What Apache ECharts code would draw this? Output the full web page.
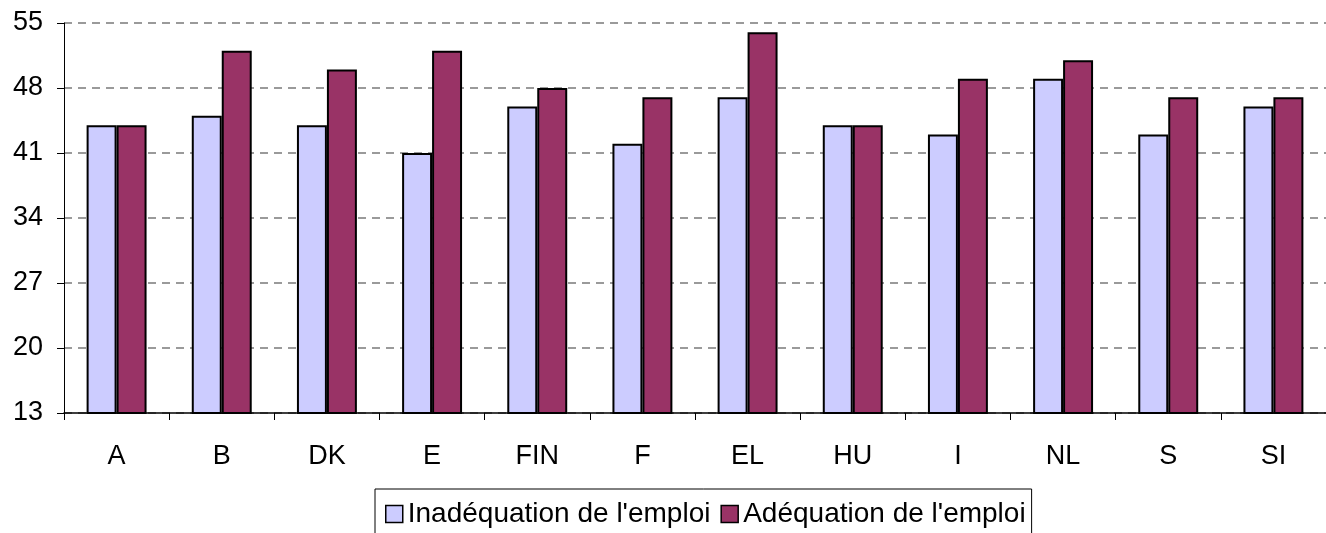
<!DOCTYPE html>
<html>
<head>
<meta charset="utf-8">
<script src="https://cdn.jsdelivr.net/npm/echarts@6/dist/echarts.min.js"></script>
<style>
  html, body { margin: 0; padding: 0; background: #fff; }
  #chart { width: 1326px; height: 533px; }
</style>
</head>
<body>
<div id="chart"></div>
<script>
const categories = ['A', 'B', 'DK', 'E', 'FIN', 'F', 'EL', 'HU', 'I', 'NL', 'S', 'SI']
const inadequation = [44, 45, 44, 41, 46, 42, 47, 44, 43, 49, 43, 46]
const adequation = [44, 52, 50, 52, 48, 47, 54, 44, 49, 51, 47, 47]

const chart = echarts.init(document.getElementById('chart'))

const font = "'Liberation Sans', Arial, sans-serif"

const option = {
  backgroundColor: '#fff',
  animation: false,
  grid: {
    left: 64,
    right: 0,
    top: 23,
    bottom: 120
  },
  legend: {
    data: ["Inadéquation de l'emploi", "Adéquation de l'emploi"],
    left: 375,
    top: 489,
    icon: 'rect',
    itemWidth: 17,
    itemHeight: 17,
    itemGap: 10,
    padding: [11, 6, 12, 10],
    borderColor: '#000',
    borderWidth: 1,
    itemStyle: { borderColor: '#000', borderWidth: 1.5 },
    textStyle: {
      fontFamily: font,
      fontSize: 28,
      color: '#000'
    }
  },
  xAxis: {
    type: 'category',
    data: categories,
    axisLine: { onZero: false, lineStyle: { color: '#000', width: 1.5 } },
    axisTick: { show: true, length: 7, lineStyle: { color: '#000' } },
    axisLabel: {
      fontFamily: font,
      fontSize: 27,
      color: '#000',
      margin: 30
    },
    splitLine: { show: false },
    z: 5
  },
  yAxis: {
    type: 'value',
    min: 13,
    max: 55,
    interval: 7,
    axisLine: { show: true, lineStyle: { color: '#000', width: 1 } },
    axisTick: { show: true, inside: false, length: 7, lineStyle: { color: '#000' } },
    axisLabel: {
      fontFamily: font,
      fontSize: 27,
      color: '#000',
      margin: 21
    },
    splitLine: {
      show: true,
      lineStyle: { color: '#7a7a7a', type: [8, 6], width: 1.5 }
    }
  },
  series: [
    {
      name: "Inadéquation de l'emploi",
      type: 'bar',
      data: inadequation,
      barGap: '0%',
      barCategoryGap: '43%',
      itemStyle: {
        color: '#CCCCFF',
        borderColor: '#000',
        borderWidth: 2
      }
    },
    {
      name: "Adéquation de l'emploi",
      type: 'bar',
      data: adequation,
      itemStyle: {
        color: '#993366',
        borderColor: '#000',
        borderWidth: 2
      }
    }
  ]
}

chart.setOption(option)
</script>
</body>
</html>
